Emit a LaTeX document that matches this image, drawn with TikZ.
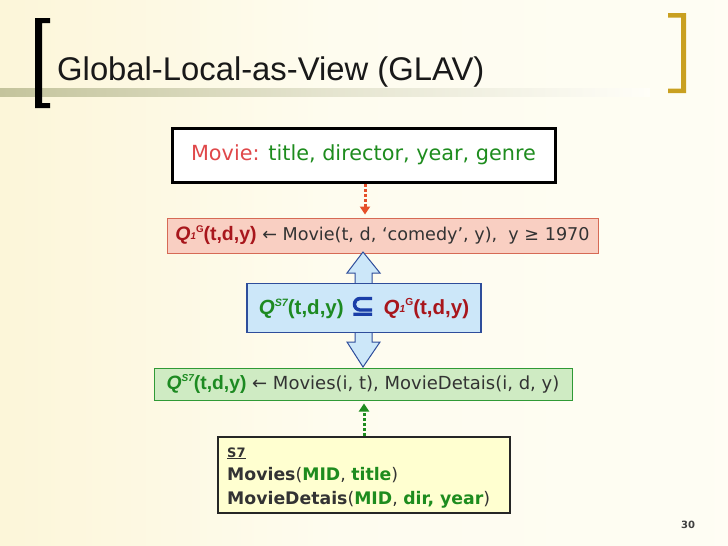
\documentclass[tikz,border=0pt]{standalone}
\usepackage{fontspec}
\usepackage{graphicx}
\setmainfont{DejaVu Sans}
\newfontfamily\titlefont{Liberation Sans}
\newfontfamily\qfont{Liberation Sans}
\newfontfamily\heavyfont{DejaVu Sans}[FakeBold=4]
\usetikzlibrary{arrows.meta}
\definecolor{bgA}{HTML}{FAEDB2}
\definecolor{bgB}{HTML}{FCF5D6}
\definecolor{bgC}{HTML}{FEFCEF}
\definecolor{bgD}{HTML}{FFFEF8}
\definecolor{barc}{HTML}{C4C49C}
\definecolor{goldc}{HTML}{C9A020}
\definecolor{mred}{HTML}{E0484A}
\definecolor{mgreen}{HTML}{1E8C1E}
\definecolor{dred}{HTML}{A8161C}
\definecolor{qgreen}{HTML}{1D8A22}
\definecolor{sblue}{HTML}{1A3EA8}
\definecolor{tgray}{HTML}{333333}
\definecolor{qfill}{HTML}{F9CFC2}
\definecolor{qdraw}{HTML}{D66A55}
\definecolor{bfill}{HTML}{CCE7F9}
\definecolor{bdraw}{HTML}{2E4D9B}
\definecolor{gfill}{HTML}{CFEBC3}
\definecolor{gdraw}{HTML}{2F9A35}
\definecolor{yfill}{HTML}{FFFFD0}
\definecolor{arrred}{HTML}{E5502A}
\pgfdeclarehorizontalshading{bgshade}{100bp}{color(0bp)=(bgA); color(22bp)=(bgB); color(48bp)=(bgC); color(100bp)=(bgD)}
\tikzset{
  box/.style={inner sep=0pt, text=tgray},
  dotarrow/.style={line width=3pt, dash pattern=on 3pt off 2pt, -{Triangle[width=10pt,length=8pt]}},
  s7line/.style={anchor=base west, inner sep=0pt, text=tgray},
}
\newcommand{\qone}{{\qfont\bfseries\textit{Q}\raisebox{0.08em}{\scalebox{0.5}{\itshape 1}}\raisebox{0.42em}{\scalebox{0.5}{G}}(t,d,y)}}
\newcommand{\qsseven}{{\qfont\bfseries\textit{Q}\raisebox{0.38em}{\scalebox{0.52}{\itshape S7}}(t,d,y)}}
\begin{document}
\begin{tikzpicture}[x=1pt,y=-1pt]
\useasboundingbox (0,0) rectangle (728,546);
\shade[shading=bgshade] (0,0) rectangle (728,546);
% title bar
\shade[left color=barc, right color=bgD, middle color=barc!45!bgD] (0,88) rectangle (650,96);
% brackets
\fill[black] (50,18) -- (35,18) -- (35,108) -- (50,108) -- (50,103) -- (42,103) -- (42,23) -- (50,23) -- cycle;
\fill[goldc] (668,13) -- (686,13) -- (686,93) -- (668,93) -- (668,88.5) -- (681,88.5) -- (681,17.5) -- (668,17.5) -- cycle;
\node[anchor=base west, inner sep=0pt, text=black!90] (title) at (57,80) {\titlefont\fontsize{32.8}{36}\selectfont Global-Local-as-View (GLAV)};
% movie box
\node[box, draw=black, line width=3pt, fill=white, minimum width=383, minimum height=54] (movie) at (363.5,155)
  {\fontsize{20.8}{24}\selectfont\textcolor{mred}{Movie:} \textcolor{mgreen}{title, director, year, genre}};
% Q1 box
\node[box, draw=qdraw, line width=1pt, fill=qfill, minimum width=431, minimum height=35] (q1) at (382.5,235.5)
  {\fontsize{17.6}{22}\selectfont\textcolor{dred}{\fontsize{19.5}{22}\selectfont\qone} ← Movie(t, d, ‘comedy’, y),\ \ y ≥ 1970};
% double arrow
\draw[bdraw, fill=bfill, line width=1pt] (363,252) -- (380,273) -- (372,273) -- (372,342) -- (380,342) -- (363,367) -- (347,342) -- (355,342) -- (355,273) -- (347,273) -- cycle;
% middle box
\node[box, draw=bdraw, line width=1.2pt, fill=bfill, minimum width=234, minimum height=49] (mid) at (364,308)
  {\fontsize{20.5}{24}\selectfont\textcolor{qgreen}{\qsseven}\hspace{7pt}\textcolor{sblue}{\raisebox{-1pt}{\resizebox{24pt}{18pt}{\heavyfont ⊆}}}\hspace{9pt}\textcolor{dred}{\qone}};
% green box
\node[box, draw=gdraw, line width=1pt, fill=gfill, minimum width=418, minimum height=32] (gq) at (363,384)
  {\fontsize{18}{22}\selectfont\textcolor{qgreen}{\fontsize{19.3}{22}\selectfont\qsseven} ← Movies(i, t), MovieDetais(i, d, y)};
% S7 box
\node[draw=black!85, line width=2pt, fill=yfill, minimum width=292, minimum height=76, inner sep=0pt] (s7) at (364,475) {};
\node[s7line] (s7a) at (227,457) {\fontsize{13}{16}\selectfont\bfseries\underline{S7}};
\node[s7line] (s7b) at (227,480) {\fontsize{17.3}{22}\selectfont\textbf{Movies}(\textbf{\textcolor{mgreen}{MID}}, \textbf{\textcolor{mgreen}{title}})};
\node[s7line] (s7c) at (227,504) {\fontsize{17.3}{22}\selectfont\textbf{MovieDetais}(\textbf{\textcolor{mgreen}{MID}}, \textbf{\textcolor{mgreen}{dir, year}})};
% connectors
\draw[dotarrow, arrred, shorten >=3pt] ([xshift=1.5pt]movie.south) -- ([xshift=1.5pt]movie.south |- q1.north);
\draw[dotarrow, mgreen, shorten >=3pt] (s7.north) -- (s7.north |- gq.south);
\node[anchor=base, inner sep=0pt, text=black!75] (pnum) at (688,528) {\fontsize{10}{12}\selectfont\bfseries 30};
\end{tikzpicture}
\end{document}
